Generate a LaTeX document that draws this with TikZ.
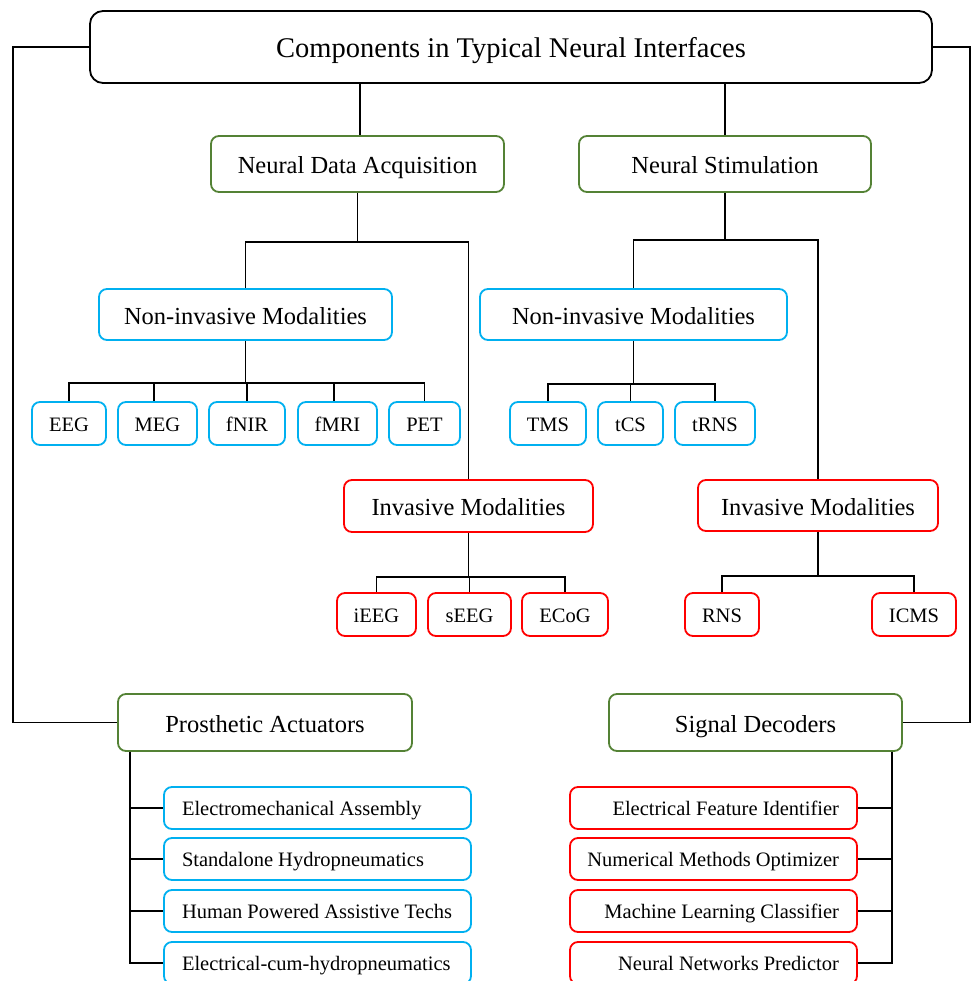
\documentclass[tikz,border=0pt]{standalone}
\usepackage{fontspec}
\setmainfont{Liberation Serif}
\definecolor{gr}{HTML}{548235}
\definecolor{bl}{HTML}{00B0F0}
\definecolor{rd}{HTML}{FF0000}
\newcommand{\lefttxt}[1]{\makebox[271pt][l]{#1}}
\newcommand{\righttxt}[1]{\makebox[251pt][r]{#1}}
\begin{document}
\begin{tikzpicture}[x=1pt,y=-1pt,
  box/.style={draw, line width=1.8pt, rounded corners=8pt, inner sep=0pt, fill=white},
  big/.style={font=\fontsize{24.5}{28}\selectfont, text height=20pt, text depth=1pt},
  small/.style={font=\fontsize{20.5}{24}\selectfont, text height=17pt, text depth=1.2pt},
  rootbox/.style={box, draw=black, rounded corners=13pt, font=\fontsize{28.5}{32}\selectfont, text height=23pt, text depth=1.1pt},
  gbox/.style={box, draw=gr, big},
  bbox/.style={box, draw=bl, big},
  rbox/.style={box, draw=rd, big},
  sbb/.style={box, draw=bl, minimum height=43pt, small},
  srb/.style={box, draw=rd, minimum height=43pt, small},
  litem/.style={box, draw=bl, minimum height=42pt, minimum width=307pt, small},
  ritem/.style={box, draw=rd, minimum height=42pt, minimum width=287pt, small},
  conn/.style={draw=black, line width=1.8pt}
]
\clip (0,0) rectangle (973,981);
\fill[white] (0,0) rectangle (973,981);

% nodes
\node[rootbox, minimum width=842pt, minimum height=72pt] (root) at (511,47) {Components in Typical Neural Interfaces};
\node[gbox, minimum width=293pt, minimum height=56pt] (nda) at (357.5,164) {Neural Data Acquisition};
\node[gbox, minimum width=292pt, minimum height=56pt] (ns) at (725,164) {Neural Stimulation};
\node[bbox, minimum width=293pt, minimum height=51pt] (nonL) at (245.5,314.5) {Non-invasive Modalities};
\node[bbox, minimum width=307pt, minimum height=51pt] (nonR) at (633.5,314.5) {Non-invasive Modalities};
\node[rbox, minimum width=249pt, minimum height=52pt] (invL) at (468.5,506) {Invasive Modalities};
\node[rbox, minimum width=240pt, minimum height=51pt] (invR) at (818,505.5) {Invasive Modalities};

\node[sbb, minimum width=74pt] (eeg) at (69,423.5) {EEG};
\node[sbb, minimum width=79pt] (meg) at (157.5,423.5) {MEG};
\node[sbb, minimum width=76pt] (fnir) at (247,423.5) {fNIR};
\node[sbb, minimum width=79pt] (fmri) at (337.5,423.5) {fMRI};
\node[sbb, minimum width=71pt] (pet) at (424.5,423.5) {PET};

\node[sbb, minimum width=76pt] (tms) at (548,423.5) {TMS};
\node[sbb, minimum width=65pt] (tcs) at (630.5,423.5) {tCS};
\node[sbb, minimum width=80pt] (trns) at (715,423.5) {tRNS};

\node[srb, minimum width=79pt] (ieeg) at (376.5,614.5) {iEEG};
\node[srb, minimum width=83pt] (seeg) at (469.5,614.5) {sEEG};
\node[srb, minimum width=86pt] (ecog) at (565,614.5) {ECoG};

\node[srb, minimum width=74pt] (rns) at (722,614.5) {RNS};
\node[srb, minimum width=84pt] (icms) at (914,614.5) {ICMS};

\node[gbox, minimum width=294pt, minimum height=57pt] (pa) at (265,722.5) {Prosthetic Actuators};
\node[gbox, minimum width=293pt, minimum height=57pt] (sd) at (755.5,722.5) {Signal Decoders};

\node[litem] (la) at (317.5,808) {\lefttxt{Electromechanical Assembly}};
\node[litem] (lb) at (317.5,859) {\lefttxt{Standalone Hydropneumatics}};
\node[litem] (lc) at (317.5,911) {\lefttxt{Human Powered Assistive Techs}};
\node[litem] (ld) at (317.5,963) {\lefttxt{Electrical-cum-hydropneumatics}};

\node[ritem] (ra) at (713.5,808) {\righttxt{Electrical Feature Identifier}};
\node[ritem] (rb) at (713.5,859) {\righttxt{Numerical Methods Optimizer}};
\node[ritem] (rc) at (713.5,911) {\righttxt{Machine Learning Classifier}};
\node[ritem] (rd) at (713.5,963) {\righttxt{Neural Networks Predictor}};

% connectors
\path[conn] (root.south -| 360,0) -- (nda.north -| 360,0);
\path[conn] (root.south -| ns.north) -- (ns.north);

\path[conn] (nda.south) -- (nda.south |- 0,242);
\path[conn] (nonL.north) |- (invL.north |- 0,242) -- (invL.north);
\path[conn] (ns.south) -- (ns.south |- 0,240);
\path[conn] (nonR.north) |- (invR.north |- 0,240) -- (invR.north);

\path[conn] (nonL.south) -- (nonL.south |- 0,383);
\path[conn] (eeg.north) |- (pet.north |- 0,383) -- (pet.north);
\path[conn] (meg.north -| 154,0) -- (154,383);
\path[conn] (fnir.north) -- (fnir.north |- 0,383);
\path[conn] (fmri.north -| 334,0) -- (334,383);

\path[conn] (nonR.south) -- (nonR.south |- 0,384);
\path[conn] (tms.north) |- (trns.north |- 0,384) -- (trns.north);
\path[conn] (tcs.north) -- (tcs.north |- 0,384);

\path[conn] (invL.south) -- (invL.south |- 0,577);
\path[conn] (ieeg.north) |- (ecog.north |- 0,577) -- (ecog.north);
\path[conn] (seeg.north) -- (seeg.north |- 0,577);

\path[conn] (invR.south) -- (invR.south |- 0,576);
\path[conn] (rns.north) |- (icms.north |- 0,576) -- (icms.north);

\path[conn] (root.west) -- (root.west -| 13,0) |- (pa.west);
\path[conn] (root.east) -- (root.east -| 970,0) |- (sd.east);

\path[conn] (pa.south -| 130,0) |- (la.west);
\path[conn] (pa.south -| 130,0) |- (lb.west);
\path[conn] (pa.south -| 130,0) |- (lc.west);
\path[conn] (pa.south -| 130,0) |- (ld.west);

\path[conn] (sd.south -| 892,0) |- (ra.east);
\path[conn] (sd.south -| 892,0) |- (rb.east);
\path[conn] (sd.south -| 892,0) |- (rc.east);
\path[conn] (sd.south -| 892,0) |- (rd.east);
\end{tikzpicture}
\end{document}
